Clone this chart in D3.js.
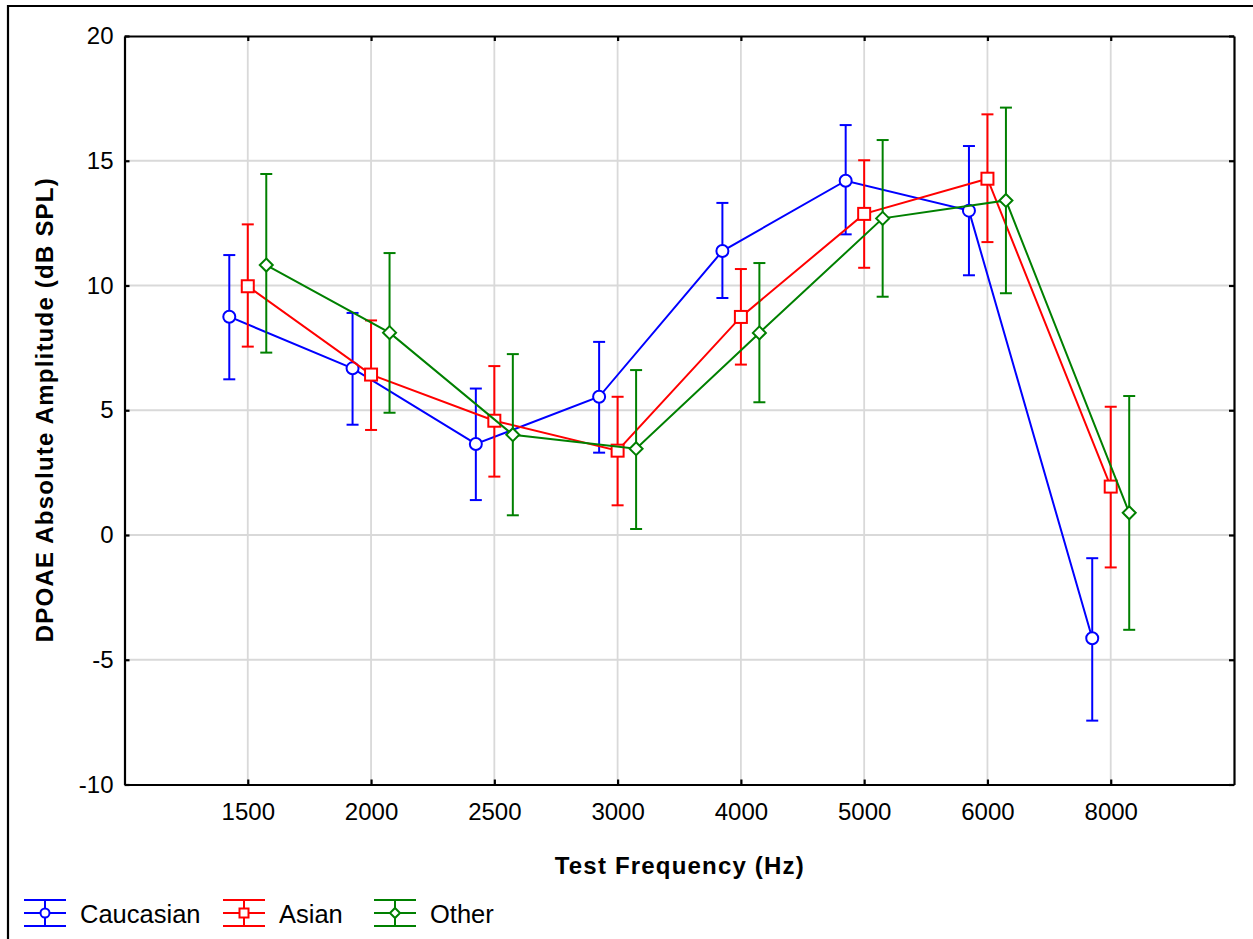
<!DOCTYPE html>
<html>
<head>
<meta charset="utf-8">
<script src="https://cdn.jsdelivr.net/npm/d3@7"></script>
<style>
  html, body { margin: 0; padding: 0; background: #fff; }
  svg { display: block; font-family: "Liberation Sans", Arial, sans-serif; }
</style>
</head>
<body>
<svg id="chart" width="1253" height="939"></svg>
<script>
// Test frequencies (Hz)
const categories = ["1500", "2000", "2500", "3000", "4000", "5000", "6000", "8000"];

// Group means and error-bar limits (dB SPL)
const caucasianMean  = [8.75, 6.68, 3.65, 5.54, 11.38, 14.2, 13.0, -4.14];
const caucasianLow   = [6.24, 4.42, 1.4, 3.3, 9.5, 12.05, 10.41, -7.44];
const caucasianHigh  = [11.22, 8.9, 5.87, 7.74, 13.31, 16.43, 15.59, -0.93];

const asianMean  = [9.97, 6.43, 4.58, 3.38, 8.74, 12.87, 14.28, 1.94];
const asianLow   = [7.55, 4.21, 2.34, 1.19, 6.83, 10.71, 11.74, -1.3];
const asianHigh  = [12.45, 8.6, 6.77, 5.54, 10.66, 15.02, 16.86, 5.14];

const otherMean  = [10.82, 8.11, 4.02, 3.46, 8.1, 12.69, 13.41, 0.89];
const otherLow   = [7.31, 4.9, 0.79, 0.24, 5.32, 9.55, 9.69, -3.8];
const otherHigh  = [14.47, 11.3, 7.25, 6.61, 10.9, 15.83, 17.13, 5.57];

const yTicks = [-10, -5, 0, 5, 10, 15, 20];

const series = [
  { name: "Caucasian", mean: caucasianMean, low: caucasianLow, high: caucasianHigh, color: "#0000ff", shape: "circle", shift: -0.15 },
  { name: "Asian",     mean: asianMean,     low: asianLow,     high: asianHigh,     color: "#ff0000", shape: "square", shift: 0 },
  { name: "Other",     mean: otherMean,     low: otherLow,     high: otherHigh,     color: "#008000", shape: "diamond", shift: 0.15 }
];

const svg = d3.select("#chart");
const font = '"Liberation Sans", Arial, sans-serif';

// Plot frame
const plotLeft = 124.5, plotRight = 1234, plotTop = 36, plotBottom = 784.5;

const x = d3.scaleLinear().domain([0, categories.length + 1]).range([plotLeft, plotRight]);
const y = d3.scaleLinear().domain([-10, 20]).range([plotBottom, plotTop]);
const catIdx = d3.range(1, categories.length + 1);

// Outer border of the figure
svg.append("path")
  .attr("d", `M8,${939 + 5} L8,6 L${1253 + 5},6`)
  .attr("fill", "none").attr("stroke", "#000").attr("stroke-width", 2.2);

// Gridlines
const grid = svg.append("g").attr("stroke", "#d9d9d9").attr("stroke-width", 1.8);
grid.selectAll("line.gy").data(yTicks.filter(v => v > -10 && v < 20)).join("line")
  .attr("class", "gy")
  .attr("x1", plotLeft).attr("x2", plotRight)
  .attr("y1", d => y(d)).attr("y2", d => y(d));
grid.selectAll("line.gx").data(catIdx).join("line")
  .attr("class", "gx")
  .attr("x1", d => x(d)).attr("x2", d => x(d))
  .attr("y1", plotTop).attr("y2", plotBottom);

// Axes on all four sides with inward ticks
function styleAxis(g) {
  g.selectAll("path.domain").attr("stroke", "#000").attr("stroke-width", 2.2);
  g.selectAll(".tick line").attr("stroke", "#000").attr("stroke-width", 2.2);
  g.selectAll(".tick text").attr("fill", "#000").style("font-family", font).style("font-size", "24px");
}

svg.append("g").attr("transform", `translate(${plotLeft},0)`)
  .call(d3.axisLeft(y).tickValues(yTicks).tickFormat(d => String(d)).tickSize(-5).tickSizeOuter(0).tickPadding(11))
  .call(styleAxis);

svg.append("g").attr("transform", `translate(${plotRight},0)`)
  .call(d3.axisRight(y).tickValues(yTicks).tickFormat("").tickSize(-5).tickSizeOuter(0))
  .call(styleAxis);

svg.append("g").attr("transform", `translate(0,${plotBottom})`)
  .call(d3.axisBottom(x).tickValues(catIdx).tickFormat(i => categories[i - 1]).tickSize(-5).tickSizeOuter(0).tickPadding(18))
  .call(styleAxis);

svg.append("g").attr("transform", `translate(0,${plotTop})`)
  .call(d3.axisTop(x).tickValues(catIdx).tickFormat("").tickSize(-5).tickSizeOuter(0))
  .call(styleAxis);

// Axis titles
svg.append("text")
  .attr("x", (plotLeft + plotRight) / 2).attr("y", 874)
  .attr("text-anchor", "middle")
  .style("font-family", font).style("font-size", "24px").style("font-weight", "bold")
  .attr("textLength", 249).attr("lengthAdjust", "spacing")
  .text("Test Frequency (Hz)");

svg.append("text")
  .attr("transform", `translate(53,${(plotTop + plotBottom) / 2}) rotate(-90)`)
  .attr("text-anchor", "middle")
  .style("font-family", font).style("font-size", "24px").style("font-weight", "bold")
  .attr("textLength", 464).attr("lengthAdjust", "spacing")
  .text("DPOAE Absolute Amplitude (dB SPL)");

// Marker drawing
function marker(g, shape, color, size) {
  if (shape === "circle") {
    g.append("circle").attr("r", size).attr("fill", "#fff").attr("stroke", color).attr("stroke-width", 2);
  } else if (shape === "square") {
    g.append("rect").attr("x", -size).attr("y", -size).attr("width", 2 * size).attr("height", 2 * size)
      .attr("fill", "#fff").attr("stroke", color).attr("stroke-width", 2);
  } else {
    g.append("path").attr("d", `M0,${-size}L${size},0L0,${size}L${-size},0Z`)
      .attr("fill", "#fff").attr("stroke", color).attr("stroke-width", 2);
  }
}

const capHalf = 6;
series.forEach(s => {
  const g = svg.append("g");
  const pts = s.mean.map((m, i) => ({ i, cx: x(i + 1 + s.shift), m, lo: s.low[i], hi: s.high[i] }));

  // Error bars
  const eb = g.append("g").attr("stroke", s.color).attr("stroke-width", 2);
  pts.forEach(p => {
    eb.append("line").attr("x1", p.cx).attr("x2", p.cx).attr("y1", y(p.hi)).attr("y2", y(p.lo));
    eb.append("line").attr("x1", p.cx - capHalf).attr("x2", p.cx + capHalf).attr("y1", y(p.hi)).attr("y2", y(p.hi));
    eb.append("line").attr("x1", p.cx - capHalf).attr("x2", p.cx + capHalf).attr("y1", y(p.lo)).attr("y2", y(p.lo));
  });

  // Connecting line
  g.append("path")
    .datum(pts)
    .attr("fill", "none").attr("stroke", s.color).attr("stroke-width", 2)
    .attr("d", d3.line().x(p => p.cx).y(p => y(p.m)));

  // Markers
  pts.forEach(p => {
    const mg = g.append("g").attr("transform", `translate(${p.cx},${y(p.m)})`);
    marker(mg, s.shape, s.color, s.shape === "diamond" ? 6.5 : 6);
  });
});

// Legend
const legendX = [24, 223, 374];
const legendY = 913;
series.forEach((s, k) => {
  const g = svg.append("g").attr("transform", `translate(${legendX[k]},${legendY})`);
  const w = 42;
  const ls = g.append("g").attr("stroke", s.color).attr("stroke-width", 2);
  [-13, 0, 13].forEach(dy => ls.append("line").attr("x1", 0).attr("x2", w).attr("y1", dy).attr("y2", dy));
  ls.append("line").attr("x1", w / 2).attr("x2", w / 2).attr("y1", -13).attr("y2", 13);
  const mg = g.append("g").attr("transform", `translate(${w / 2},0)`);
  marker(mg, s.shape, s.color, s.shape === "diamond" ? 5 : 4.5);
  g.append("text").attr("x", 56).attr("y", 9.5)
    .style("font-family", font).style("font-size", "25.5px").attr("fill", "#000")
    .text(s.name);
});
</script>
</body>
</html>
